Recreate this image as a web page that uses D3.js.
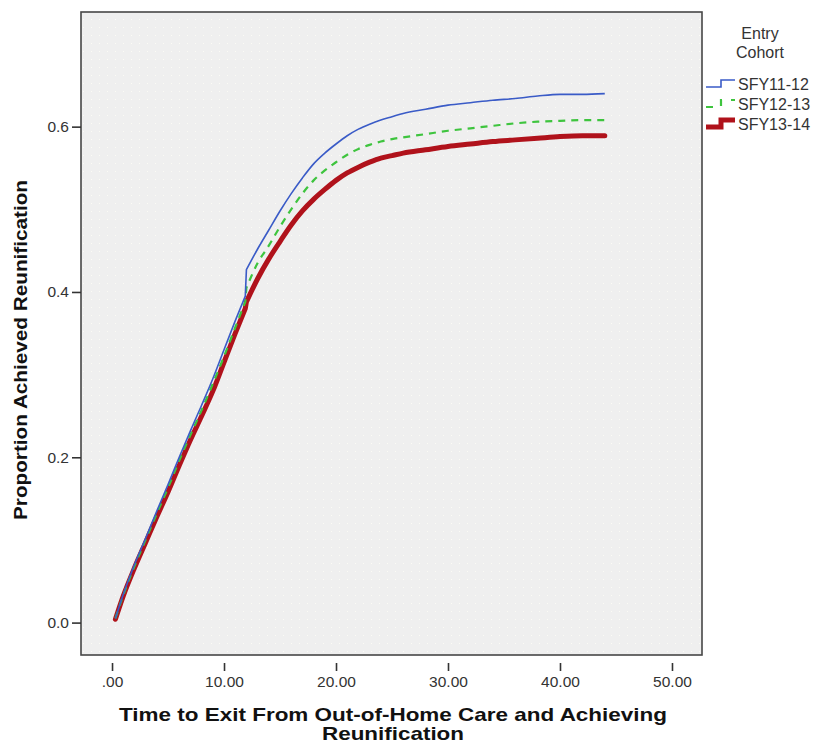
<!DOCTYPE html>
<html><head><meta charset="utf-8">
<script src="https://cdn.jsdelivr.net/npm/d3@7"></script>
<style>body{margin:0;background:#fff;}svg{display:block;font-family:"Liberation Sans",Arial,sans-serif;}</style>
</head><body><svg id="c" width="817" height="744"></svg>
<script>
const months = [0.3,1,2,3,4,5,6,7,8,9,10,11,11.9,12,13,14,15,16,17,18,19,20,21,22,23,24,25,26,28,30,32,34,36,38,40,42,44];
const sfy1112 = [0.005,0.034,0.07,0.102,0.135,0.167,0.2,0.232,0.263,0.295,0.33,0.365,0.395,0.427,0.452,0.475,0.498,0.519,0.538,0.555,0.568,0.579,0.589,0.597,0.603,0.608,0.612,0.616,0.621,0.626,0.629,0.632,0.634,0.637,0.639,0.639,0.64];
const sfy1213 = [0.005,0.033,0.068,0.1,0.132,0.163,0.196,0.227,0.257,0.289,0.322,0.357,0.388,0.405,0.435,0.456,0.479,0.5,0.519,0.535,0.547,0.557,0.566,0.573,0.578,0.582,0.585,0.587,0.591,0.595,0.598,0.601,0.604,0.606,0.607,0.608,0.608];
const sfy1314 = [0.004,0.032,0.066,0.097,0.128,0.158,0.19,0.221,0.25,0.28,0.315,0.35,0.38,0.388,0.416,0.44,0.461,0.481,0.498,0.512,0.524,0.535,0.544,0.551,0.557,0.562,0.565,0.568,0.572,0.576,0.579,0.582,0.584,0.586,0.588,0.589,0.589];
const seriesNames = ["SFY11-12","SFY12-13","SFY13-14"];
const xTicks = [0,10,20,30,40,50];
const xTickLabels = [".00","10.00","20.00","30.00","40.00","50.00"];
const yTicks = [0,0.2,0.4,0.6];
const yTickLabels = ["0.0","0.2","0.4","0.6"];

const series = [
  {name: seriesNames[0], values: sfy1112, color: "#3a5bc7", width: 1.6, dash: null},
  {name: seriesNames[1], values: sfy1213, color: "#3ec43e", width: 2.2, dash: "7,6"},
  {name: seriesNames[2], values: sfy1314, color: "#b0121b", width: 5, dash: null}
];

const svg = d3.select("#c");
const L = 81, R = 702, T = 12, B = 655;
const x = d3.scaleLinear().domain([-2.77, 52.68]).range([L, R]);
const y = d3.scaleLinear().domain([-0.0392, 0.7387]).range([B, T]);

const defs = svg.append("defs");
const pat = defs.append("pattern").attr("id","dots").attr("width",8).attr("height",8).attr("patternUnits","userSpaceOnUse");
pat.append("rect").attr("width",8).attr("height",8).attr("fill","#efefef");
pat.append("rect").attr("x",3).attr("y",3).attr("width",1).attr("height",1).attr("fill","#fbfbf5");
svg.append("rect").attr("x",L).attr("y",T).attr("width",R-L).attr("height",B-T).attr("fill","url(#dots)");

const clip = defs.append("clipPath").attr("id","clip");
clip.append("rect").attr("x",L).attr("y",T).attr("width",R-L).attr("height",B-T);
const line = d3.line().x(d=>x(d[0])).y(d=>y(d[1])).curve(d3.curveMonotoneX);
const splitAt = 12;
function pathFor(vals){
  const pts = vals.map((v,i)=>[months[i], v]);
  const a = pts.filter(p=>p[0] < splitAt), b = pts.filter(p=>p[0] >= splitAt);
  return line(a) + line(b).replace(/^M/, "L");
}
const g = svg.append("g").attr("clip-path","url(#clip)");
series.slice().reverse().forEach(s=>{
  g.append("path").attr("d", pathFor(s.values)).attr("fill","none")
   .attr("stroke", s.color).attr("stroke-width", s.width)
   .attr("stroke-dasharray", s.dash).attr("stroke-linejoin","round").attr("stroke-linecap", s.width>3 ? "round":"butt");
});

svg.append("rect").attr("x",L).attr("y",T).attr("width",R-L).attr("height",B-T)
  .attr("fill","none").attr("stroke","#474747").attr("stroke-width",1.6);

const xAxis = d3.axisBottom(x).tickValues(xTicks).tickFormat((d,i)=>xTickLabels[i]).tickSize(8).tickPadding(4);
const gx = svg.append("g").attr("transform",`translate(0,${B})`).call(xAxis);
const yAxis = d3.axisLeft(y).tickValues(yTicks).tickFormat((d,i)=>yTickLabels[i]).tickSize(9).tickPadding(3);
const gy = svg.append("g").attr("transform",`translate(${L},0)`).call(yAxis);
[gx,gy].forEach(a=>{
  a.select(".domain").remove();
  a.selectAll(".tick line").attr("stroke","#333").attr("stroke-width",1.6);
  a.selectAll(".tick text").attr("fill","#333").style("font-size","15.5px").style("font-family","'Liberation Sans',Arial,sans-serif");
});
gx.selectAll(".tick line").attr("y1",8).attr("y2",16);
gx.selectAll(".tick text").attr("y",21);

const titleStyle = t => t.style("font-size","18.5px").style("font-weight","bold").attr("fill","#111").attr("lengthAdjust","spacingAndGlyphs");
svg.append("text").attr("x",393).attr("y",721).attr("text-anchor","middle").attr("textLength",548)
  .call(titleStyle).text("Time to Exit From Out-of-Home Care and Achieving");
svg.append("text").attr("x",393).attr("y",740).attr("text-anchor","middle").attr("textLength",142)
  .call(titleStyle).text("Reunification");
svg.append("text").attr("transform","translate(27,350) rotate(-90)").attr("text-anchor","middle").attr("textLength",340)
  .call(titleStyle).text("Proportion Achieved Reunification");

svg.append("text").attr("x",760).attr("y",39).attr("text-anchor","middle").style("font-size","16px").attr("fill","#333").text("Entry");
svg.append("text").attr("x",760).attr("y",58).attr("text-anchor","middle").style("font-size","16px").attr("fill","#333").text("Cohort");
series.forEach((s,i)=>{
  const cy = 84 + i*20;
  const pts = [[706,cy+3],[721,cy+3],[721,cy-4],[735,cy-4]];
  svg.append("path").attr("d", d3.line()(pts)).attr("fill","none").attr("stroke",s.color)
    .attr("stroke-width", s.width).attr("stroke-dasharray", s.dash ? "7,9" : null);
  svg.append("text").attr("x",738).attr("y",cy+6).style("font-size","16px").attr("fill","#333").text(s.name);
});
</script></body></html>
